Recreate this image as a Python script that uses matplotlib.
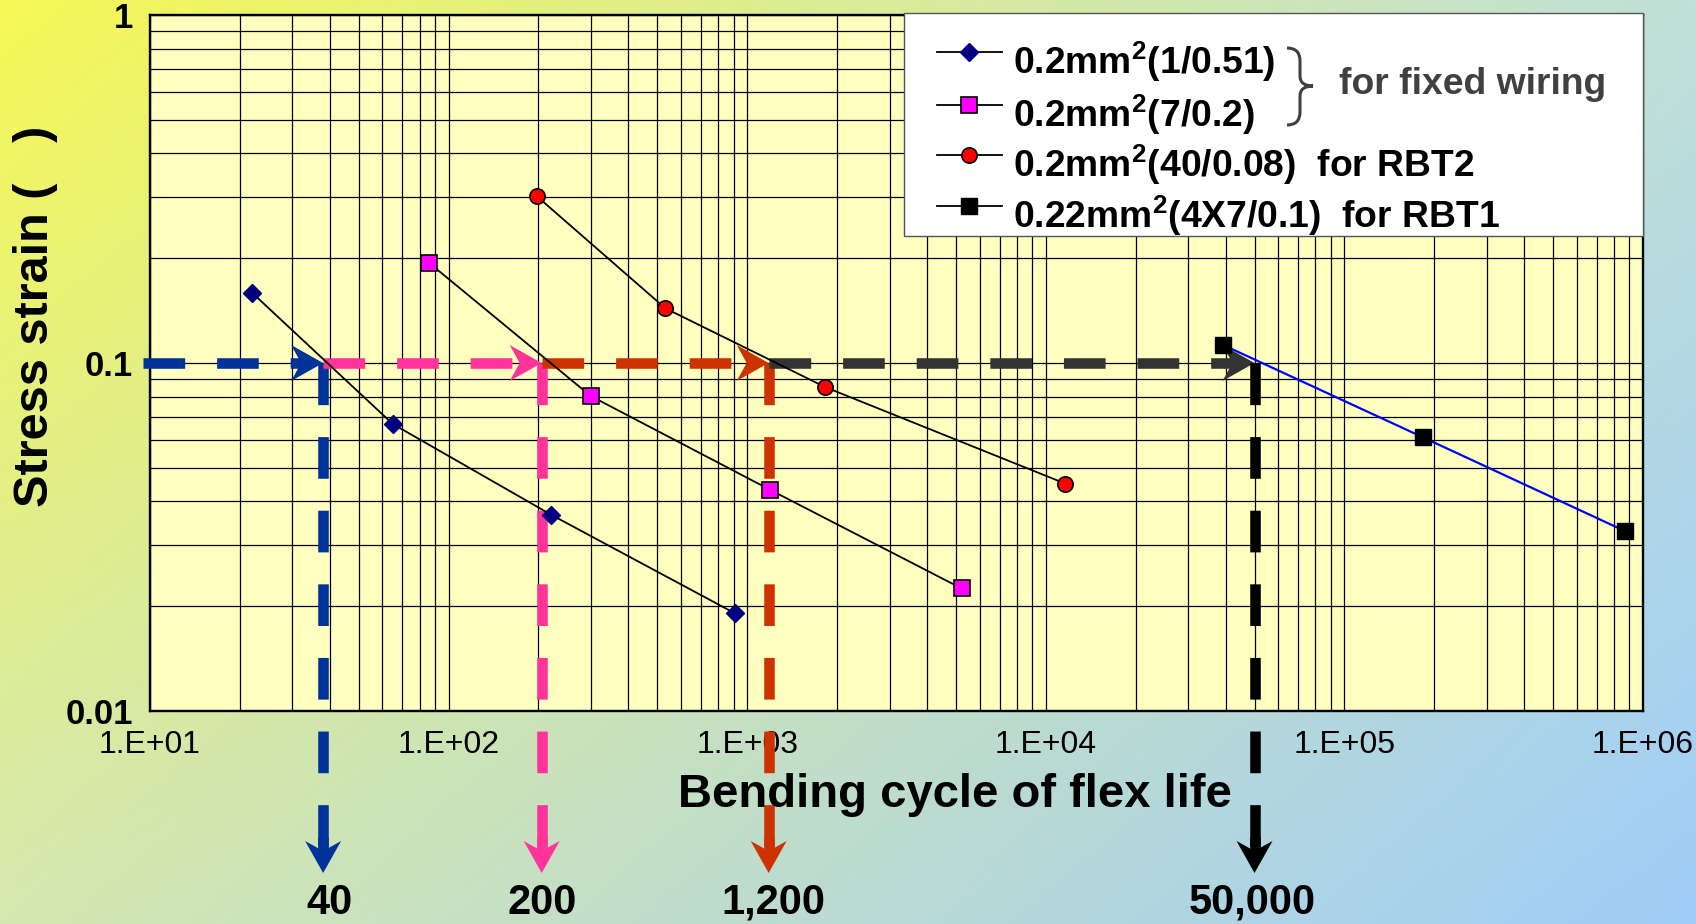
import numpy as np
import matplotlib
matplotlib.use('Agg')
import matplotlib.pyplot as plt
from matplotlib.patches import Rectangle, Polygon, PathPatch
from matplotlib.path import Path
from matplotlib.lines import Line2D
from matplotlib.transforms import IdentityTransform
from matplotlib.ticker import LogLocator, NullFormatter, FixedLocator

plt.rcParams['font.family'] = ['Liberation Sans', 'DejaVu Sans']
plt.rcParams['mathtext.fontset'] = 'custom'
plt.rcParams['mathtext.rm'] = 'Liberation Sans'
plt.rcParams['mathtext.bf'] = 'Liberation Sans:bold'
plt.rcParams['lines.scale_dashes'] = False

# ---------------- data ----------------
s1_x = [22, 65, 221, 908]
s1_y = [0.159, 0.0668, 0.0366, 0.0191]
s2_x = [86, 299, 1194, 5224]
s2_y = [0.194, 0.0804, 0.0432, 0.0225]
s3_x = [197, 532, 1828, 11640]
s3_y = [0.302, 0.1436, 0.0852, 0.045]
s4_x = [39300, 183700, 869000]
s4_y = [0.1126, 0.0611, 0.0329]

series_labels = [r'0.2mm$^{\mathbf{2}}$(1/0.51)',
                 r'0.2mm$^{\mathbf{2}}$(7/0.2)',
                 r'0.2mm$^{\mathbf{2}}$(40/0.08)  for RBT2',
                 r'0.22mm$^{\mathbf{2}}$(4X7/0.1)  for RBT1']
group_label = 'for fixed wiring'

x_ticks = [1e1, 1e2, 1e3, 1e4, 1e5, 1e6]
x_tick_labels = ['1.E+01', '1.E+02', '1.E+03', '1.E+04', '1.E+05', '1.E+06']
y_ticks = [0.01, 0.1, 1]
y_tick_labels = ['0.01', '0.1', '1']

strain_level = 0.1
arrow_start = 9.5
arrow_x = [38, 205, 1180, 50000]
label_values = [40, 205, 1220, 49000]
arrow_labels = ['40', '200', '1,200', '50,000']
arrow_hcolors = ['#003399', '#FF3399', '#CC3300', '#333333']
arrow_vcolors = ['#003399', '#FF3399', '#CC3300', '#000000']

# ---------------- figure ----------------
W, H = 1696, 924
fig = plt.figure(figsize=(W / 100, H / 100), dpi=100)

# background gradient
bg = fig.add_axes([0, 0, 1, 1], zorder=-10)
tl = np.array([245, 248, 85]); tr = np.array([192, 224, 216])
bl = np.array([213, 232, 176]); br = np.array([160, 205, 248])
u = np.linspace(0, 1, 300)[None, :, None]
v = np.linspace(0, 1, 160)[:, None, None]
img = (1 - v) * ((1 - u) * tl + u * tr) + v * ((1 - u) * bl + u * br)
bg.imshow(img / 255.0, aspect='auto', extent=[0, 1, 0, 1], origin='upper')
bg.axis('off')


def px(x0, y0, w, h):
    return [x0 / W, 1 - (y0 + h) / H, w / W, h / H]


ax = fig.add_axes(px(150, 15, 1493, 696))
ax.set_xscale('log')
ax.set_yscale('log')
ax.set_xlim(10, 1e6)
ax.set_ylim(0.01, 1)
ax.set_facecolor('#FFFFC0')
ax.xaxis.set_major_locator(FixedLocator(x_ticks))
ax.yaxis.set_major_locator(FixedLocator(y_ticks))
ax.xaxis.set_minor_locator(LogLocator(base=10, subs=np.arange(2, 10), numticks=100))
ax.yaxis.set_minor_locator(LogLocator(base=10, subs=np.arange(2, 10), numticks=100))
ax.xaxis.set_minor_formatter(NullFormatter())
ax.yaxis.set_minor_formatter(NullFormatter())
ax.set_xticklabels(x_tick_labels, fontsize=23)
ax.set_yticklabels(y_tick_labels, fontsize=25, fontweight='bold')
ax.grid(True, which='both', color='black', lw=0.9)
ax.set_axisbelow(True)
ax.tick_params(which='both', length=0)
ax.tick_params(axis='x', pad=14)
ax.tick_params(axis='y', pad=12)
for sp in ax.spines.values():
    sp.set_linewidth(1.7)
    sp.set_color('black')

# ---------------- series ----------------
ax.plot(s1_x, s1_y, color='black', lw=1.3, marker='D', ms=9,
        mfc='#000080', mec='#000080', zorder=5)
ax.plot(s2_x, s2_y, color='black', lw=1.3, marker='s', ms=11,
        mfc='#FF00FF', mec='black', mew=1.2, zorder=5)
ax.plot(s3_x, s3_y, color='black', lw=1.3, marker='o', ms=11,
        mfc='#FF0000', mec='black', mew=1.2, zorder=5)
ax.plot(s4_x, s4_y, color='#0000FF', lw=1.6, marker='s', ms=12,
        mfc='black', mec='black', zorder=5)

# ---------------- arrows ----------------
dash = (0, (30, 23))
lw_arrow = 7.6
ident = IdentityTransform()
HL, HW, HN = 32, 18, 22   # head length, half width, notch distance from tip (px)


def to_px(x, y):
    return ax.transData.transform((x, y))


def head_right(tx, ty, color):
    pts = [(tx, ty), (tx - HL, ty + HW), (tx - HN, ty), (tx - HL, ty - HW)]
    ax.add_patch(Polygon(pts, closed=True, facecolor=color, edgecolor='none',
                         transform=ident, clip_on=False, zorder=4))


def head_down(tx, ty, color):
    pts = [(tx, ty), (tx - HW, ty + HL), (tx, ty + HN), (tx + HW, ty + HL)]
    ax.add_patch(Polygon(pts, closed=True, facecolor=color, edgecolor='none',
                         transform=ident, clip_on=False, zorder=4))


tip_y = H - 873  # pixel (from bottom) of vertical arrow tips
starts = [arrow_start] + arrow_x[:-1]
for xs, xe, hc, vc in zip(starts, arrow_x, arrow_hcolors, arrow_vcolors):
    p0 = to_px(xs, strain_level)
    p1 = to_px(xe, strain_level)
    ax.add_line(Line2D([p0[0], p1[0] - HN], [p0[1], p1[1]], transform=ident,
                       color=hc, lw=lw_arrow, ls=dash, clip_on=False, zorder=4,
                       dash_capstyle='butt'))
    head_right(p1[0], p1[1], hc)
    ax.add_line(Line2D([p1[0], p1[0]], [p1[1], tip_y + HN], transform=ident,
                       color=vc, lw=lw_arrow, ls=dash, clip_on=False, zorder=4,
                       dash_capstyle='butt'))
    ax.add_line(Line2D([p1[0], p1[0]], [tip_y + HL + 4, tip_y + HN], transform=ident,
                       color=vc, lw=lw_arrow, clip_on=False, zorder=4,
                       solid_capstyle='butt'))
    head_down(p1[0], tip_y, vc)

for xv, lab in zip(label_values, arrow_labels):
    p = to_px(xv, strain_level)
    fig.text(p[0] / W, 1 - 903 / H, lab, fontsize=30, fontweight='bold',
             ha='center', va='center')

# ---------------- axis titles ----------------
fig.text(36 / W, 1 - 316 / H, 'Stress strain (   )', rotation=90, fontsize=35,
         fontweight='bold', ha='center', va='center')
fig.text(955 / W, 1 - 795 / H, 'Bending cycle of flex life', fontsize=34,
         fontweight='bold', ha='center', va='center')

# ---------------- legend ----------------
fig.add_artist(Rectangle((904 / W, 1 - 236 / H), (1643 - 904) / W, (236 - 13) / H,
                         transform=fig.transFigure, facecolor='white',
                         edgecolor='#555555', lw=1.0, zorder=3))

row_y = [52, 105, 155, 206]
styles = [dict(marker='D', ms=9, mfc='#000080', mec='#000080'),
          dict(marker='s', ms=11, mfc='#FF00FF', mec='black', mew=1.2),
          dict(marker='o', ms=11, mfc='#FF0000', mec='black', mew=1.2),
          dict(marker='s', ms=12, mfc='black', mec='black')]
for yy, st, lab in zip(row_y, styles, series_labels):
    yf = 1 - yy / H
    fig.add_artist(Line2D([937 / W, 1002 / W], [yf, yf], transform=fig.transFigure,
                          color='black', lw=1.3, zorder=4))
    fig.add_artist(Line2D([969 / W], [yf], transform=fig.transFigure, ls='none',
                          zorder=5, **st))
    fig.text(1013 / W, 1 - (yy + 22) / H, lab, fontsize=26.8, fontweight='bold',
             ha='left', va='baseline', zorder=5)

# brace
xl, xm, xr = 1287, 1300, 1313
yt, ym, yb = 48, 86, 125
verts_px = [(xl, yt), (xm, yt), (xm, yt + 13), (xm, ym - 10), (xm, ym), (xr, ym),
            (xm, ym), (xm, ym + 10), (xm, yb - 13), (xm, yb), (xl, yb)]
codes = [Path.MOVETO, Path.CURVE3, Path.CURVE3, Path.LINETO, Path.CURVE3, Path.CURVE3,
         Path.CURVE3, Path.CURVE3, Path.LINETO, Path.CURVE3, Path.CURVE3]
verts = [(x / W, 1 - y / H) for x, y in verts_px]
fig.add_artist(PathPatch(Path(verts, codes), transform=fig.transFigure,
                         facecolor='none', edgecolor='#404040', lw=2.2, zorder=5))
fig.text(1339 / W, 1 - 84 / H, group_label, fontsize=26.8, fontweight='bold',
         color='#404040', ha='left', va='center', zorder=5)

fig.savefig('out.png', dpi=100)
